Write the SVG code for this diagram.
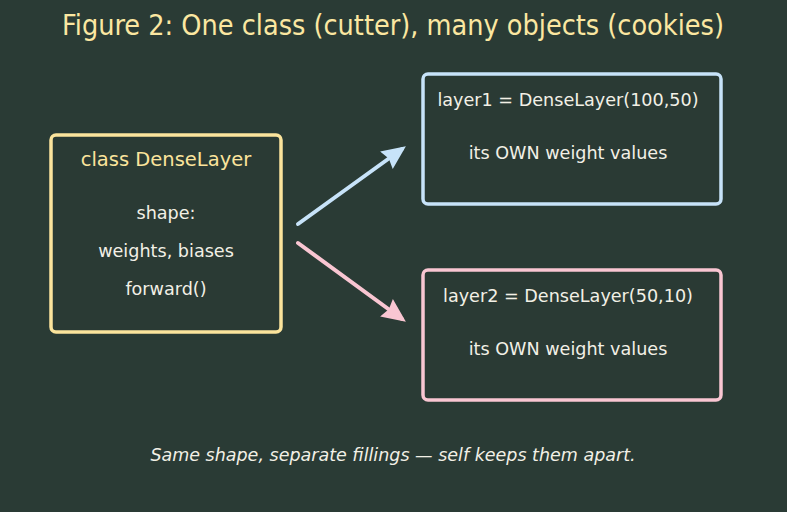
<svg xmlns="http://www.w3.org/2000/svg" width="787" height="512" viewBox="0 0 787 512">
<style>
text{font-family:"DejaVu Sans","Liberation Sans",sans-serif;text-anchor:middle;}
.title{font-family:"DejaVu Sans Condensed","DejaVu Sans",sans-serif;font-stretch:condensed;}
.box{fill:#2a3a34;stroke-width:3.5;}
.t{font-size:17.6px;fill:#f2f0e6;}
.h{font-size:19.5px;}
</style>
<defs>
<marker id="ab" viewBox="0 0 10 10" refX="8" refY="5" markerWidth="6" markerHeight="6" orient="auto" markerUnits="strokeWidth"><path d="M0,0.5 L10,5 L0,9.5 L1.2,5 Z" fill="#c7e3f9"/></marker>
<marker id="ap" viewBox="0 0 10 10" refX="8" refY="5" markerWidth="6" markerHeight="6" orient="auto" markerUnits="strokeWidth"><path d="M0,0.5 L10,5 L0,9.5 L1.2,5 Z" fill="#f9c6d2"/></marker>
</defs>
<rect width="787" height="512" fill="#2a3b35"/>
<text class="title" x="393" y="35" font-size="28.5" fill="#fbe7a1">Figure 2: One class (cutter), many objects (cookies)</text>
<g id="class">
<rect class="box" x="51" y="135" width="230" height="197" rx="5" stroke="#fbe49c"/>
<text class="h" x="166" y="166" fill="#fbe49c">class DenseLayer</text>
<text class="t" x="166" y="219">shape:</text>
<text class="t" x="166" y="257">weights, biases</text>
<text class="t" x="166" y="295">forward()</text>
</g>
<g id="layer1">
<rect class="box" x="423" y="74" width="298" height="130" rx="5" stroke="#c7e3f9"/>
<text class="t" x="568" y="106" fill="#c7e3f9">layer1 = DenseLayer(100,50)</text>
<text class="t" x="568" y="159">its OWN weight values</text>
</g>
<g id="layer2">
<rect class="box" x="423" y="270" width="298" height="130" rx="5" stroke="#f9c6d2"/>
<text class="t" x="568" y="302" fill="#f9c6d2">layer2 = DenseLayer(50,10)</text>
<text class="t" x="568" y="355">its OWN weight values</text>
</g>
<g id="connectors" stroke-width="4" stroke-linecap="round" fill="none">
<line x1="298" y1="224" x2="402" y2="149" stroke="#c7e3f9" marker-end="url(#ab)"/>
<line x1="298" y1="243" x2="402" y2="319" stroke="#f9c6d2" marker-end="url(#ap)"/>
</g>
<text x="393" y="461" font-size="17.5" font-style="italic" fill="#f2f0e6">Same shape, separate fillings — self keeps them apart.</text>
</svg>
